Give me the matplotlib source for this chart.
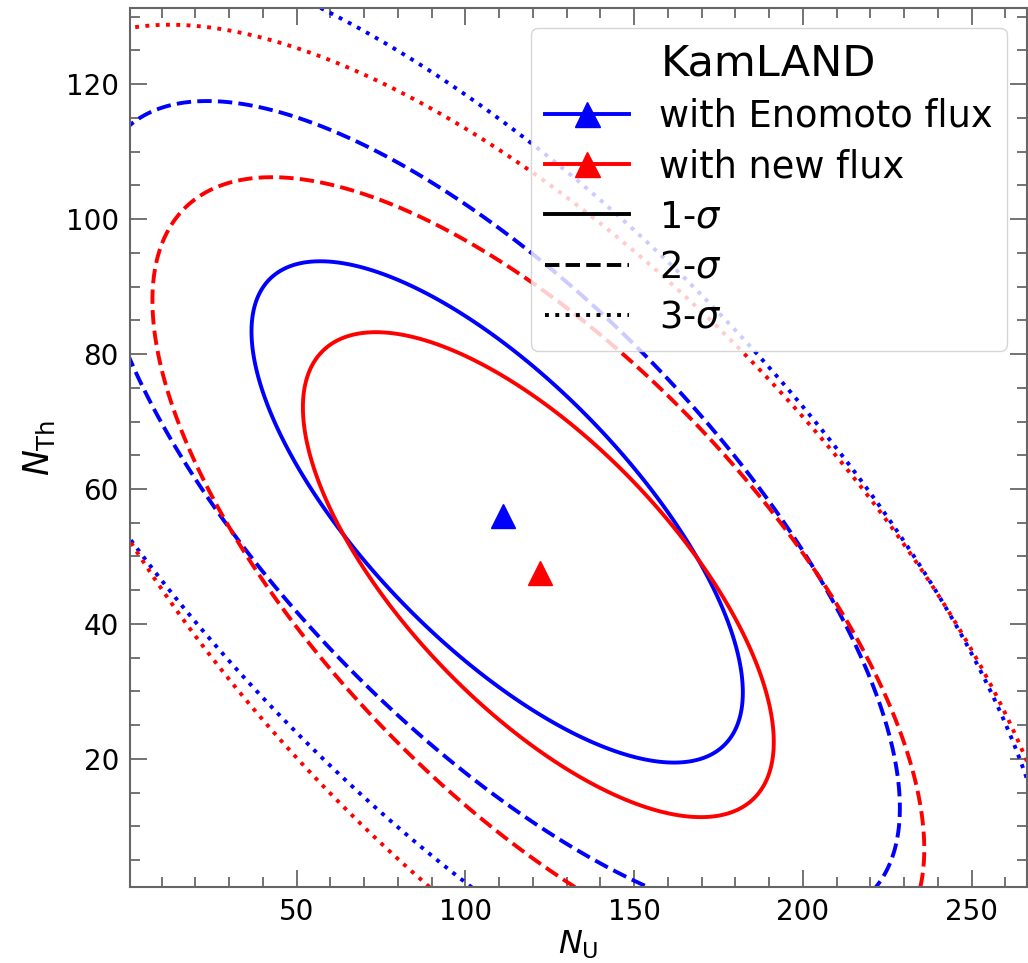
import matplotlib
matplotlib.use('Agg')
import matplotlib.pyplot as plt
import numpy as np
from matplotlib.lines import Line2D
from matplotlib.ticker import MultipleLocator

# best-fit points (N_U, N_Th)
best_enomoto = [111.0, 56.0]
best_new = [122.0, 47.5]

# chi^2 ellipse parameters: centre, sigma_U, sigma_Th, correlation
center_enomoto = [109.4, 56.6]
sig_enomoto = [48.0, 24.5]
rho_enomoto = -0.72

center_new = [121.6, 47.3]
sig_new = [46.0, 23.7]
rho_new = -0.69

# delta chi^2 for 1, 2, 3 sigma (2 d.o.f.)
levels = [2.30, 6.18, 11.83]
styles = ['solid', 'dashed', 'dotted']
sigma_labels = [r'1-$\sigma$', r'2-$\sigma$', r'3-$\sigma$']

plt.rcParams.update({
    'font.family': 'DejaVu Sans',
    'mathtext.fontset': 'dejavusans',
})


def chi2_map(X, Y, c, s, rho):
    u = (X - c[0]) / s[0]
    v = (Y - c[1]) / s[1]
    return (u**2 - 2 * rho * u * v + v**2) / (1 - rho**2)


fig = plt.figure(figsize=(10.28, 9.63), dpi=100)
ax = fig.add_axes([130 / 1028, 76 / 963, 897 / 1028, 879 / 963])

gx = np.linspace(-30, 300, 800)
gy = np.linspace(-20, 160, 600)
X, Y = np.meshgrid(gx, gy)

for c, s, r, col in [(center_enomoto, sig_enomoto, rho_enomoto, 'blue'),
                     (center_new, sig_new, rho_new, 'red')]:
    ax.contour(X, Y, chi2_map(X, Y, c, s, r), levels=levels,
               colors=col, linestyles=styles, linewidths=2.8)

ax.plot(best_enomoto[0], best_enomoto[1], '^', color='blue', ms=17)
ax.plot(best_new[0], best_new[1], '^', color='red', ms=17)

ax.set_xlim(0.6, 266.4)
ax.set_ylim(1.0, 131.3)
ax.xaxis.set_major_locator(MultipleLocator(50))
ax.xaxis.set_minor_locator(MultipleLocator(10))
ax.yaxis.set_major_locator(MultipleLocator(20))
ax.yaxis.set_minor_locator(MultipleLocator(5))
ax.tick_params(which='both', direction='in', top=True, right=True,
               labelsize=20, pad=8, color='0.3')
ax.tick_params(which='major', length=12, width=1.1)
ax.tick_params(which='minor', length=7, width=1.1)
for sp in ax.spines.values():
    sp.set_color('0.4')
    sp.set_linewidth(1.5)

ax.set_xlabel(r'$N_{\rm U}$', fontsize=23, labelpad=2)
ax.set_ylabel(r'$N_{\rm Th}$', fontsize=25, labelpad=6)

handles = [
    Line2D([], [], color='blue', lw=2.8, marker='^', ms=18),
    Line2D([], [], color='red', lw=2.8, marker='^', ms=18),
]
labels = ['with Enomoto flux', 'with new flux']
for ls, lab in zip(styles, sigma_labels):
    handles.append(Line2D([], [], color='black', lw=2.8, linestyle=ls))
    labels.append(lab)

leg = ax.legend(handles, labels, loc='upper right', fontsize=26.5,
                title='KamLAND', title_fontsize=31, handlelength=2.26,
                handletextpad=0.82, borderaxespad=0.54, labelspacing=0.36)

fig.savefig('out.png', dpi=100)
